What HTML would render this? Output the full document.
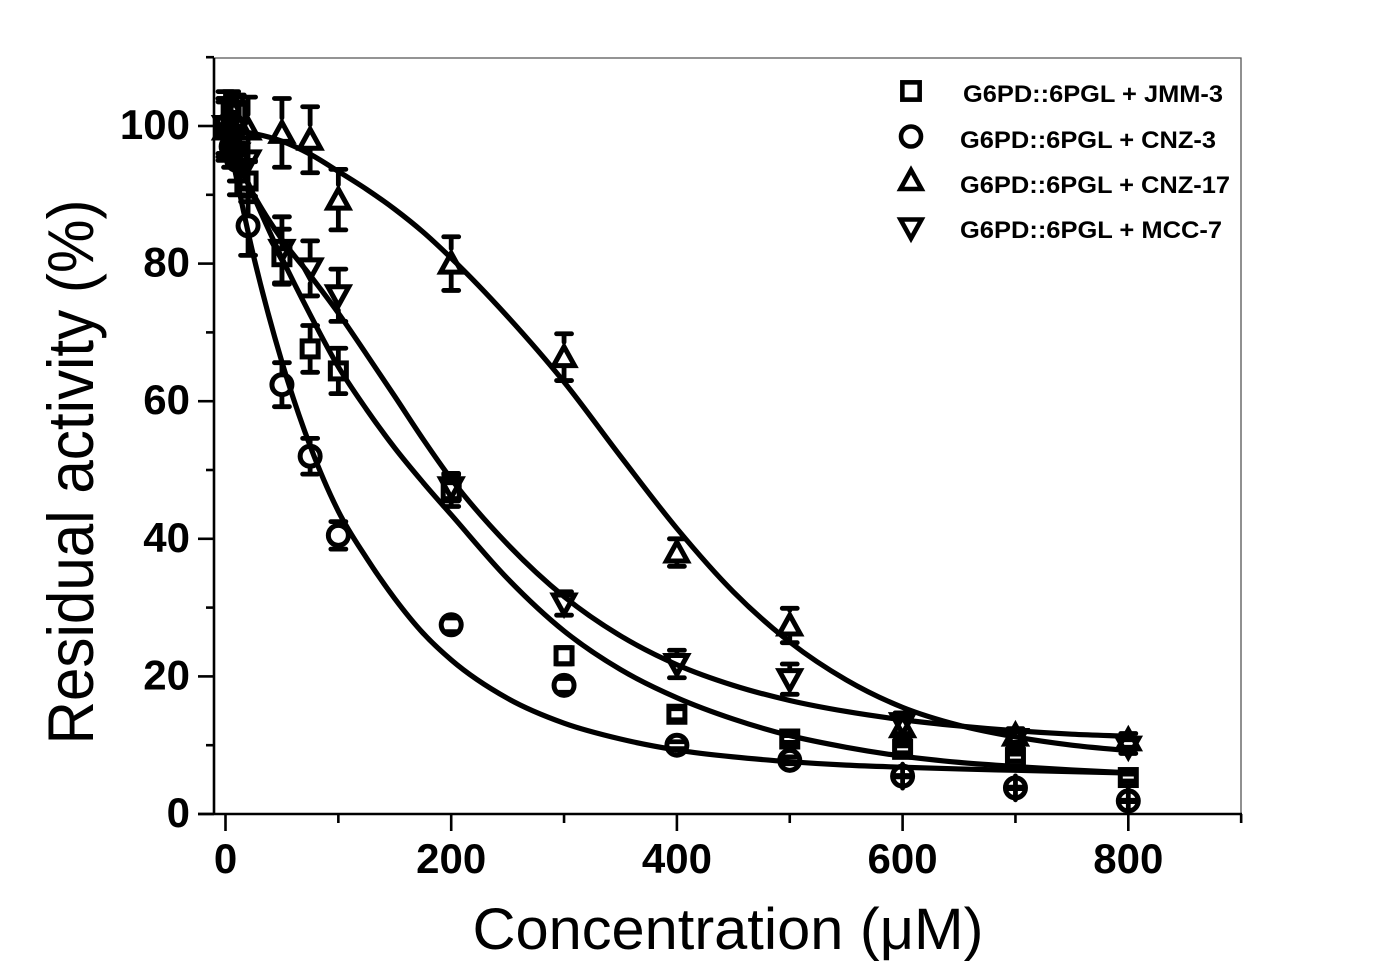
<!DOCTYPE html>
<html>
<head>
<meta charset="utf-8">
<title>Residual activity chart</title>
<style>
html,body{margin:0;padding:0;background:#fff;width:1380px;height:978px;overflow:hidden}
svg{display:block}
text{fill:#000;font-family:"Liberation Sans",sans-serif}
</style>
</head>
<body>
<svg id="chart" width="1380" height="978" viewBox="0 0 1380 978" xmlns="http://www.w3.org/2000/svg">
  <rect x="0" y="0" width="1380" height="978" fill="#fff"/>
  <g id="ticks"></g>
  <g id="errors"></g>
  <g id="markers"></g>
  <g id="curves"></g>
  <g id="legend"></g>
  <text transform="translate(93,472) rotate(-90)" text-anchor="middle" font-size="65" textLength="545" lengthAdjust="spacingAndGlyphs">Residual activity (%)</text>
  <text x="728" y="949" text-anchor="middle" font-size="58" textLength="511" lengthAdjust="spacingAndGlyphs">Concentration (μM)</text>
</svg>
<script>
// ---- data ----
const doses = [0, 5, 10, 20, 50, 75, 100, 200, 300, 400, 500, 600, 700, 800];
const jmmValues = [100, 102, 102, 92, 81, 67.6, 64.4, 47, 23, 14.5, 10.9, 9.4, 8.2, 5.3];
const jmmErrors = [5, 3, 2.5, 3, 4, 3.4, 3.3, 2.3, 1.2, 0.8, 0.5, 0.5, 0.5, 0.5];
const cnz3Values = [100, 97, 95, 85.5, 62.4, 52, 40.5, 27.5, 18.7, 10, 7.8, 5.5, 3.8, 1.9];
const cnz3Errors = [4, 3, 5, 4.3, 3.2, 2.6, 2, 1, 1, 0.5, 0.5, 0.1, 0.1, 0.1];
const cnz17Values = [99.5, 100, 100.5, 99.5, 99, 98, 89.3, 80, 66.4, 38, 27.4, 12.6, 11.4, 10.7];
const cnz17Errors = [4, 3, 3, 4.7, 5, 4.8, 4.4, 3.9, 3.4, 2, 2.5, 1.5, 1, 1];
const mccValues = [100, 98, 96, 95, 82, 79.3, 75.4, 47.5, 30.6, 21.8, 19.6, 13.2, 10.9, 9.8];
const mccErrors = [4, 4, 4, 4, 4.8, 4, 3.8, 2, 1.7, 2, 2.2, 1.5, 1, 1];

const curveDoses = [0, 25, 50, 75, 100, 125, 150, 175, 200, 250, 300, 350, 400, 450, 500, 550, 600, 650, 700, 750, 800];
const jmmCurve = [100, 89.8, 80.8, 72.6, 65, 58.8, 53.2, 48.2, 43.5, 34.2, 26.6, 21, 16.9, 13.8, 11.4, 9.7, 8.4, 7.5, 6.9, 6.4, 6];
const cnz3Curve = [100, 81, 65.7, 53.5, 44, 37.2, 31.3, 26.3, 22.4, 16.8, 13.2, 10.9, 9.3, 8.3, 7.6, 7.1, 6.8, 6.55, 6.35, 6.15, 5.95];
const cnz17Curve = [99.5, 98.9, 97.8, 95.9, 93.4, 90.8, 87.9, 84.6, 80.8, 72.3, 62.8, 52, 41.5, 32.3, 25, 19.5, 15.5, 12.9, 11.2, 10, 9.2];
const mccCurve = [98.5, 90, 83.5, 78.3, 72.8, 66.8, 60.7, 54.5, 48.7, 39.2, 31.6, 25.9, 21.7, 18.7, 16.5, 14.9, 13.7, 12.8, 12.1, 11.6, 11.3];

const xMajorTicks = [0, 200, 400, 600, 800];
const xMinorTicks = [100, 300, 500, 700, 900];
const yMajorTicks = [0, 20, 40, 60, 80, 100];
const yMinorTicks = [10, 30, 50, 70, 90, 110];

const seriesNames = ["jmm-3", "cnz-3", "cnz-17", "mcc-7"];
const legendLabels = ["G6PD::6PGL + JMM-3", "G6PD::6PGL + CNZ-3", "G6PD::6PGL + CNZ-17", "G6PD::6PGL + MCC-7"];

// ---- axis functions ----
function xScale(v) { return 225.5 + v * 1.1285; }
function yScale(v) { return 814 - v * 6.88; }

const NS = "http://www.w3.org/2000/svg";
function make(tag, attrs, parent) {
  const e = document.createElementNS(NS, tag);
  for (const k in attrs) e.setAttribute(k, attrs[k]);
  parent.appendChild(e);
  return e;
}

const ticksG = document.getElementById("ticks");
const curvesG = document.getElementById("curves");
const errorsG = document.getElementById("errors");
const markersG = document.getElementById("markers");
const legendG = document.getElementById("legend");

// ---- frame ----
const frame = make("path", {d: "M214 58H1241V814", fill: "none", stroke: "#555", "stroke-width": 1.3}, ticksG);


const yAxis = make("line", {x1: 214, x2: 214, y1: 58, y2: 814, stroke: "#000", "stroke-width": 2.6}, ticksG);


const xAxis = make("line", {x1: 198, x2: 1242, y1: 814, y2: 814, stroke: "#000", "stroke-width": 2.6}, ticksG);



xMajorTicks.forEach(function (v) {
  const t = make("line", {x1: xScale(v), x2: xScale(v), y1: 814, y2: 831, stroke: "#000", "stroke-width": 2.6}, ticksG);
  
  
  const l = make("text", {x: xScale(v), y: 873, "text-anchor": "middle", "font-size": 42, "font-weight": "bold"}, ticksG);
  l.textContent = v;
  
  
});
xMinorTicks.forEach(function (v) {
  const t = make("line", {x1: xScale(v), x2: xScale(v), y1: 814, y2: 823, stroke: "#000", "stroke-width": 2.6}, ticksG);
  
  
});
yMajorTicks.forEach(function (v) {
  const t = make("line", {x1: 198, x2: 214, y1: yScale(v), y2: yScale(v), stroke: "#000", "stroke-width": 2.6}, ticksG);
  
  
  const l = make("text", {x: 190, y: yScale(v) + 13, "text-anchor": "end", "font-size": 42, "font-weight": "bold"}, ticksG);
  l.textContent = v;
  
  
});
yMinorTicks.forEach(function (v) {
  const t = make("line", {x1: 206, x2: 214, y1: yScale(v), y2: yScale(v), stroke: "#000", "stroke-width": 2.6}, ticksG);
  
  
});

// ---- curves (smooth spline through the sampled values) ----
function curvePath(xs, ys) {
  const p = xs.map(function (x, i) { return [xScale(x), yScale(ys[i])]; });
  const n = p.length;
  const m = p.map(function (pt, i) {
    if (i === 0) return (p[1][1] - p[0][1]) / (p[1][0] - p[0][0]);
    if (i === n - 1) return (p[n - 1][1] - p[n - 2][1]) / (p[n - 1][0] - p[n - 2][0]);
    const h1 = pt[0] - p[i - 1][0], h2 = p[i + 1][0] - pt[0];
    const d1 = (pt[1] - p[i - 1][1]) / h1, d2 = (p[i + 1][1] - pt[1]) / h2;
    return (h2 * d1 + h1 * d2) / (h1 + h2);
  });
  let d = "M" + p[0][0] + " " + p[0][1];
  for (let i = 0; i < n - 1; i++) {
    const h = p[i + 1][0] - p[i][0];
    d += "C" + (p[i][0] + h / 3) + " " + (p[i][1] + m[i] * h / 3) + " " + (p[i + 1][0] - h / 3) + " " + (p[i + 1][1] - m[i + 1] * h / 3) + " " + p[i + 1][0] + " " + p[i + 1][1];
  }
  return d;
}
[jmmCurve, cnz3Curve, cnz17Curve, mccCurve].forEach(function (ys, i) {
  const c = make("path", {d: curvePath(curveDoses, ys), fill: "none", stroke: "#000", "stroke-width": 5.2, "stroke-linecap": "round"}, curvesG);
  
  
});

// ---- markers ----
function drawSymbol(kind, cx, cy, parent, k, sw) {
  const base = {fill: "none", stroke: "#000", "stroke-width": sw, "stroke-linejoin": "miter", "stroke-miterlimit": 6};
  if (kind === 0) {
    return make("rect", Object.assign({x: cx - 8 * k, y: cy - 8 * k, width: 16 * k, height: 16 * k}, base), parent);
  }
  if (kind === 1) {
    return make("circle", Object.assign({cx: cx, cy: cy, r: 10 * k}, base), parent);
  }
  if (kind === 2) {
    return make("path", Object.assign({d: "M" + cx + " " + (cy - 10.5 * k) + "L" + (cx + 10.5 * k) + " " + (cy + 8.5 * k) + "H" + (cx - 10.5 * k) + "Z"}, base), parent);
  }
  return make("path", Object.assign({d: "M" + cx + " " + (cy + 10.5 * k) + "L" + (cx + 10.5 * k) + " " + (cy - 8.5 * k) + "H" + (cx - 10.5 * k) + "Z"}, base), parent);
}

// distance from a marker's centre to its outer edge, upward and downward
function edgeUp(kind) { return [10, 12, 15, 11][kind]; }
function edgeDown(kind) { return [10, 12, 11, 15][kind]; }

const seriesValues = [jmmValues, cnz3Values, cnz17Values, mccValues];
const seriesErrors = [jmmErrors, cnz3Errors, cnz17Errors, mccErrors];
seriesValues.forEach(function (vals, s) {
  vals.forEach(function (v, i) {
    const x = xScale(doses[i]);
    const cy = yScale(v);
    const err = seriesErrors[s][i];
    const top = yScale(v + err);
    const bot = yScale(v - err);
    let d = "M" + (x - 7.5) + " " + top + "H" + (x + 7.5) + "M" + (x - 7.5) + " " + bot + "H" + (x + 7.5);
    if (top < cy - edgeUp(s)) d += "M" + x + " " + top + "V" + (cy - edgeUp(s));
    if (bot > cy + edgeDown(s)) d += "M" + x + " " + bot + "V" + (cy + edgeDown(s));
    if (err < 0.3) d += "M" + x + " " + (cy - edgeUp(s)) + "V" + (cy + edgeDown(s));
    const eb = make("path", {d: d, fill: "none", stroke: "#000", "stroke-width": 4.8, "stroke-linecap": "round"}, errorsG);
    
    
    const m = drawSymbol(s, x, cy, markersG, 1, 5);
    
    
  });
});

// ---- legend ----
const legendSymbolY = [91, 136.5, 180.5, 228];
const legendSymbolK = [1.08, 1, 1, 1];
const legendTextX = [963, 960, 960, 960];
const legendTextY = [102, 148, 193, 238];
const legendTextW = [260, 256, 270, 262];
legendLabels.forEach(function (label, i) {
  const g = make("g", {}, legendG);
  
  
  const sym = drawSymbol(i, 911, legendSymbolY[i], g, legendSymbolK[i], 4.6);
  
  
  const t = make("text", {x: legendTextX[i], y: legendTextY[i], "font-size": 24, "font-weight": "bold", textLength: legendTextW[i], lengthAdjust: "spacingAndGlyphs"}, g);
  t.textContent = label;
  
  
});
</script>
</body>
</html>
